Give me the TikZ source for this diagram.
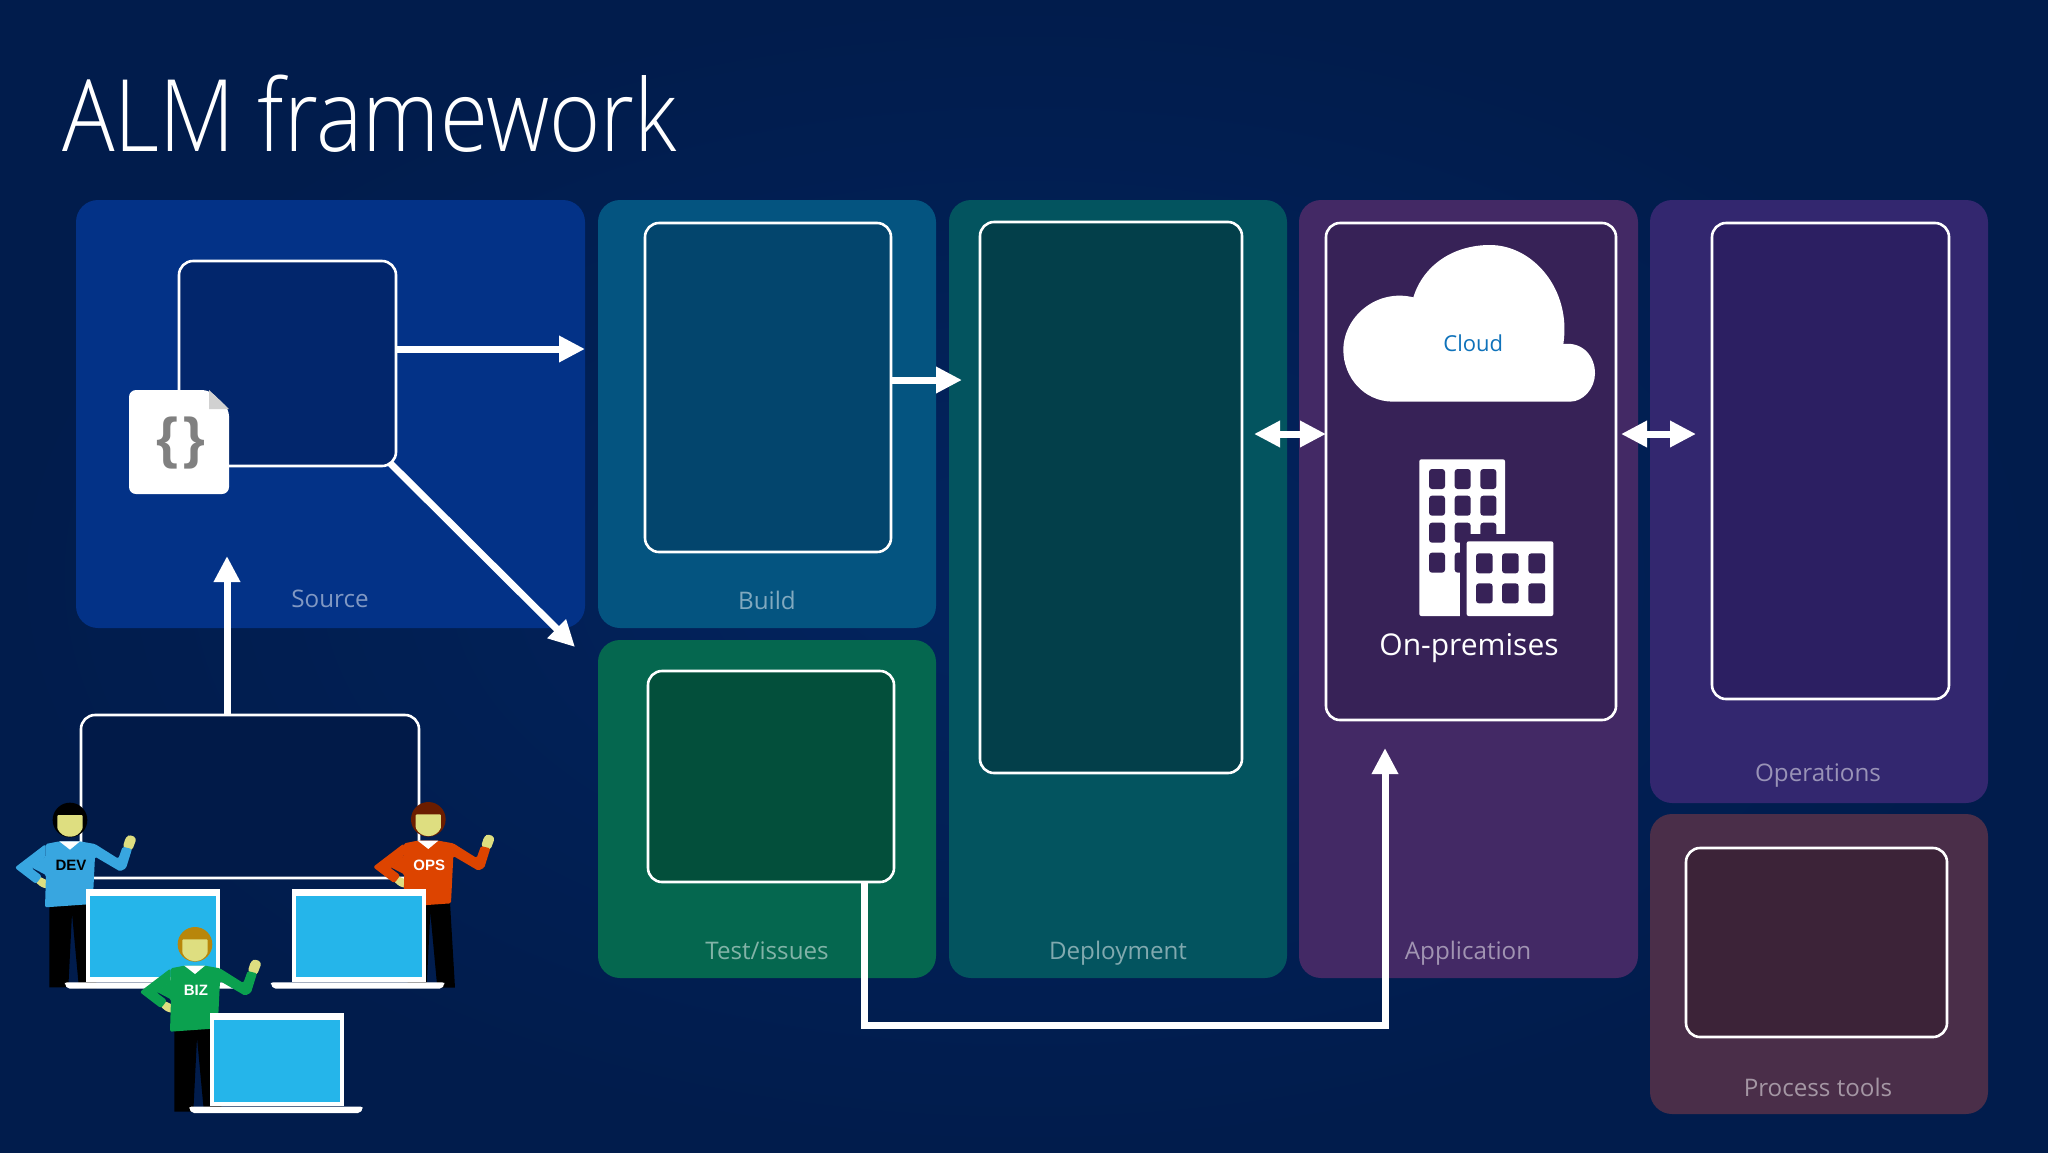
\documentclass[tikz,border=0pt]{standalone}
\usepackage{fontspec}
\setmainfont{Open Sans}
\newfontfamily\lightf[FakeStretch=0.875]{Open Sans Light}
\newfontfamily\boldf{Liberation Sans Bold}
\usetikzlibrary{arrows.meta,shadings}
\definecolor{bgin}{HTML}{02245F}
\definecolor{bgout}{HTML}{011C4C}
\definecolor{srcp}{HTML}{033287}\definecolor{srci}{HTML}{02266C}
\definecolor{bldp}{HTML}{045480}\definecolor{bldi}{HTML}{03456D}
\definecolor{tstp}{HTML}{05674F}\definecolor{tsti}{HTML}{034F3B}
\definecolor{depp}{HTML}{03545F}\definecolor{depi}{HTML}{033F4A}
\definecolor{appp}{HTML}{432965}\definecolor{appi}{HTML}{372257}
\definecolor{opsp}{HTML}{33276F}\definecolor{opsi}{HTML}{2C1F62}
\definecolor{prcp}{HTML}{4A2E49}\definecolor{prci}{HTML}{3C2338}
\definecolor{devi}{HTML}{011A48}
\definecolor{screen}{HTML}{25B5EA}
\definecolor{skin}{HTML}{DEDE80}
\definecolor{clouda}{HTML}{0F72BA}
\definecolor{devs}{HTML}{38A6E0}
\definecolor{opsh}{HTML}{6B1D00}\definecolor{opss}{HTML}{DD4400}
\definecolor{bizh}{HTML}{B8860B}\definecolor{bizs}{HTML}{0BA14F}
\tikzset{
  panel/.style={rounded corners=22pt,draw=none,inner sep=0pt,outer sep=0pt,anchor=north west},
  inbox/.style={rounded corners=14pt,draw=white,line width=2.6pt,inner sep=0pt,outer sep=0pt,anchor=north west},
  plabel/.style={text opacity=.5,text=white,font=\fontsize{24.2}{30}\selectfont,inner sep=0pt},
  flow/.style={draw=white,line width=7pt,-{Triangle[length=26pt,width=25pt]}},
  flowtwo/.style={draw=white,line width=7pt,{Triangle[length=26pt,width=25pt]}-{Triangle[length=26pt,width=25pt]}},
}
\newcommand{\boxat}[7]{% name style fill x0 y0 x1 y1
  \pgfmathsetmacro{\bw}{#6-#4}\pgfmathsetmacro{\bh}{#7-#5}
  \node[#2,fill=#3,minimum width=\bw pt,minimum height=\bh pt] (#1) at (#4,#5) {};
}
\newcommand{\personfig}[6]{% dx dy hair shirt textcolor text
  \begin{scope}[shift={(#1,#2)}]
  \fill[black] (148,618)--(148,862)--(205,862)--(216,640)--(237,865)--(290,865)--(275,610)--cycle;
  \fill[skin,rounded corners=3pt] (368,442)--(378,410)--(392,404)--(410,415)--(396,452)--cycle;
  \fill[skin,rounded corners=2.5pt] (115,528)--(150,545)--(145,566)--(125,562)--(105,545)--cycle;
  \fill[#4,rounded corners=1.5pt] (135,622)--(138,525)--(94,502)--(137,470)--(137,432)--(178,424)--(240,424)--(285,432)--(355,476)--(368,440)--(396,447)--(378,505)--(360,514)--(285,470)--(278,612)--cycle;
  \fill[#4,rounded corners=2.5pt] (137,432)--(44,503)--(108,552)--(126,528)--(94,504)--(137,472)--cycle;
  \fill[white] (178,424)--(210,449)--(240,424)--cycle;
  \fill[#3] (210,360) circle[radius=52];
  \fill[skin,rounded corners=1pt] (172,345)--(248,345)--(248,385) .. controls (240,402) and (225,410) .. (210,410) .. controls (195,410) and (180,402) .. (172,385)--cycle;
  \node[text=#5,font=\boldf\fontsize{15}{15}\selectfont,inner sep=0pt] (#6tag) at (213,497) {#6};
  \end{scope}
}
\newcommand{\laptopfig}[2]{%
  \begin{scope}[shift={(#1,#2)}]
  \fill[white] (257,566) rectangle (660,845);
  \fill[screen] (270,588) rectangle (647,832);
  \fill[white,rounded corners=2pt] (195,847)--(715,847)--(715,854)--(707,866)--(203,866)--(195,854)--cycle;
  \end{scope}
}
\begin{document}
\begin{tikzpicture}[x=1pt,y=-1pt]
\useasboundingbox (0,0) rectangle (2048,1152);
\shade[inner color=bgin,outer color=bgout] (0,0) rectangle (2048,1152);
\node[text=white,font=\lightf\fontsize{100}{110}\selectfont,anchor=base west,inner sep=0pt] (title) at (62,151) {ALM framework};
% panels
\boxat{source}{panel}{srcp}{76}{200}{585}{628}
\boxat{build}{panel}{bldp}{598}{200}{936}{628}
\boxat{test}{panel}{tstp}{598}{640}{936}{978}
\boxat{deploy}{panel}{depp}{949}{200}{1287}{978}
\boxat{app}{panel}{appp}{1299}{200}{1638}{978}
\boxat{oper}{panel}{opsp}{1650}{200}{1988}{803}
\boxat{proc}{panel}{prcp}{1650}{814}{1988}{1114}
% inner boxes
\boxat{srcin}{inbox}{srci}{179}{261}{396}{466}
\boxat{bldin}{inbox}{bldi}{645}{223}{891}{552}
\boxat{tstin}{inbox}{tsti}{648}{671}{894}{882}
\boxat{depin}{inbox}{depi}{980}{222}{1242}{773}
\boxat{appin}{inbox}{appi}{1326}{223}{1616}{720}
\boxat{opsin}{inbox}{opsi}{1712}{223}{1949}{699}
\boxat{prcin}{inbox}{prci}{1686}{848}{1947}{1037}
\boxat{devin}{inbox}{devi}{81}{715}{419}{878}
% labels
\node[plabel] (lsource) at (330,599) {Source};
\node[plabel] (lbuild) at (767,600) {Build};
\node[plabel] (ltest) at (767,951) {Test/issues};
\node[plabel] (ldeploy) at (1118,953) {Deployment};
\node[plabel] (lapp) at (1468,953) {Application};
\node[plabel] (loper) at (1818,776) {Operations};
\node[plabel] (lproc) at (1818,1087) {Process tools};
% connectors
\coordinate (a1) at (396,349);
\draw[flow] (a1) -- (a1 -| source.east);
\coordinate (a2) at (891,380);
\draw[flow] (a2) -- ([xshift=13pt]a2 -| deploy.west);
\coordinate (a3s) at (390,463);
\coordinate (a3e) at (575,647);
\draw[flow] (a3s) -- (a3e);
\coordinate (a4) at (227,556);
\draw[flow] (devin.north -| a4) -- (a4);
\coordinate (a5) at (864,883);
\coordinate (a5e) at (1385,748);
\draw[flow] (a5) |- (1385,1025) -- (a5e);
\coordinate (a6) at (1254,434);
\draw[flowtwo] (a6) -- (a6 -| appin.west);
\coordinate (a7) at (1621,434);
\draw[flowtwo] (a7) -- (1696,434);
% document icon
\fill[white,rounded corners=7pt] (129,390)--(209,390)--(229,409)--(229,494)--(129,494)--cycle;
\fill[black!18] (209,390)--(229,409)--(209,409)--cycle;
\node[text=black!50,font=\boldf\fontsize{56}{60}\selectfont,inner sep=0pt] (braces) at (181,443) {\{\kern5pt\}};
% cloud and building
\begin{scope}[shift={(1320,210)},scale=1/3]
\fill[white] (220,575) .. controls (130,575) and (70,500) .. (70,420)
  .. controls (70,320) and (170,235) .. (280,262)
  .. controls (310,165) and (400,105) .. (510,105)
  .. controls (640,105) and (755,240) .. (730,402)
  .. controls (790,395) and (825,440) .. (825,490)
  .. controls (825,535) and (790,575) .. (750,575) -- cycle;
\node[font=\fontsize{22}{26}\selectfont,inner sep=0pt,text=clouda] (cloudt) at (460,400) {Cloud};
\fill[white,rounded corners=2pt] (298,748) rectangle (555,1218);
\foreach \xa in {327,404,481} \foreach \ya in {777,857,938,1028}
  \fill[appi,rounded corners=3pt] (\xa,\ya) rectangle ++(48,60);
\fill[appi] (420,972) rectangle (560,1225);
\fill[white,rounded corners=2pt] (440,994) rectangle (700,1218);
\foreach \xa in {468,546,625} \foreach \ya in {1030,1120}
  \fill[appi,rounded corners=3pt] (\xa,\ya) rectangle ++(50,60);
\end{scope}
\node[text=white,font=\fontsize{30}{36}\selectfont,inner sep=0pt] (onprem) at (1469,648) {On-premises};
% people and laptops
\begin{scope}[shift={(0,700)},scale=1/3]
\personfig{0}{0}{black}{devs}{black}{DEV}
\laptopfig{0}{0}
\personfig{1075}{-2}{opsh}{opss}{white}{OPS}
\laptopfig{618}{0}
\personfig{375}{373}{bizh}{bizs}{white}{BIZ}
\laptopfig{373}{373}
\end{scope}
\end{tikzpicture}
\end{document}
